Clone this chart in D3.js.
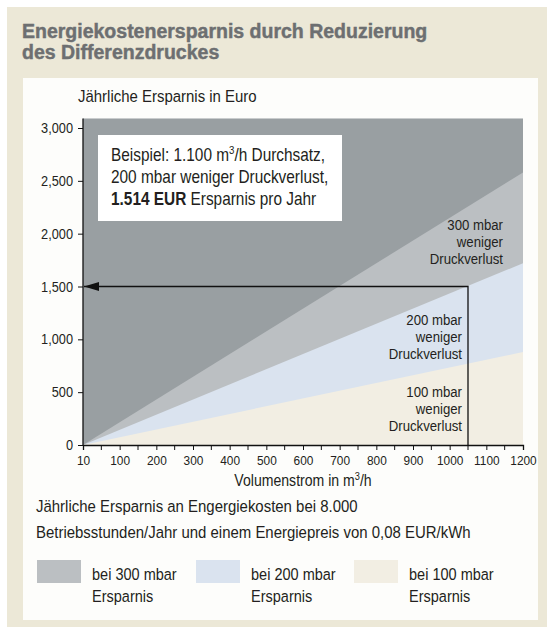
<!DOCTYPE html>
<html>
<head>
<meta charset="utf-8">
<script src="https://cdn.jsdelivr.net/npm/d3@7"></script>
<style>
  body { margin: 0; background: #ffffff; }
  svg text { font-family: "Liberation Sans", Arial, sans-serif; fill: #231f20; }
  .title { font-weight: bold; fill: #6d6f71 !important; stroke: #6d6f71; stroke-width: 0.45px; }
</style>
</head>
<body>
<svg id="chart"></svg>
<script>
// flow in m3/h and yearly savings in EUR
const flow = [0, 1200];
const save300 = [0, 2580];
const save200 = [0, 1720];
const save100 = [0, 880];
const fillTop = 3090;

const yTicks = [0, 500, 1000, 1500, 2000, 2500, 3000];
const yTickLabels = ["0", "500", "1,000", "1,500", "2,000", "2,500", "3,000"];
const xMinorTicks = [50, 150, 250, 350, 450, 550, 650, 750, 850, 950, 1050, 1150];
const xTicks = [0, 100, 200, 300, 400, 500, 600, 700, 800, 900, 1000, 1100, 1200];
const xTickLabels = ["10", "100", "200", "300", "400", "500", "600", "700", "800", "900", "1000", "1100", "1200"];

const exampleFlow = 1050, exampleSaving = 1500;

const legendLabels = ["bei 300 mbar", "bei 200 mbar", "bei 100 mbar"];
const colors = { bg: "#999fa2", s300: "#bbbfc2", s200: "#dae3ef", s100: "#f2eee3" };

const width = 547, height = 627;
const narrow = 0.88; // squeeze to mimic the condensed face
const svg = d3.select("#chart").attr("width", width).attr("height", height);

// condensed text helper
function ctext(x, y, size, anchor) {
  return svg.append("g").attr("transform", `translate(${x},${y}) scale(${narrow},1)`)
    .append("text").attr("text-anchor", anchor || "start").style("font-size", size + "px");
}

// frame
svg.append("rect").attr("x", 7).attr("y", 7).attr("width", 540).attr("height", 620).attr("fill", "#ece8d7");
svg.append("rect").attr("x", 23).attr("y", 78).attr("width", 515).attr("height", 542).attr("fill", "#fdfdfb");

svg.append("text").attr("class", "title").attr("x", 22).attr("y", 38).style("font-size", "19.5px")
  .text("Energiekostenersparnis durch Reduzierung");
svg.append("text").attr("class", "title").attr("x", 22).attr("y", 59).style("font-size", "19.5px")
  .text("des Differenzdruckes");

const x = d3.scaleLinear().domain([0, 1200]).range([83, 523]);
const y = d3.scaleLinear().domain([0, 3000]).range([445, 128]);

// areas
svg.append("rect")
  .attr("x", x(0)).attr("y", y(fillTop))
  .attr("width", x(1200) - x(0)).attr("height", y(0) - y(fillTop))
  .attr("fill", colors.bg);

const area = vals => d3.area()
  .x((d, i) => x(flow[i]))
  .y0(y(0))
  .y1((d, i) => y(vals[i]))(vals);

svg.append("path").attr("d", area(save300)).attr("fill", colors.s300);
svg.append("path").attr("d", area(save200)).attr("fill", colors.s200);
svg.append("path").attr("d", area(save100)).attr("fill", colors.s100);

// example box
svg.append("rect").attr("x", 98).attr("y", 135).attr("width", 244).attr("height", 86).attr("fill", "#ffffff");
const t1 = ctext(111, 161, 17.5);
t1.append("tspan").text("Beispiel: 1.100 m");
t1.append("tspan").attr("dy", -7).style("font-size", "11px").text("3");
t1.append("tspan").attr("dy", 7).text("/h Durchsatz,");
ctext(111, 183, 17.5).text("200 mbar weniger Druckverlust,");
const t3 = ctext(111, 205, 17.5);
t3.append("tspan").style("font-weight", "bold").text("1.514 EUR");
t3.append("tspan").text(" Ersparnis pro Jahr");

// series labels
const seriesLabels = [
  { x: 503, y: 230, lines: ["300 mbar", "weniger", "Druckverlust"] },
  { x: 462, y: 325, lines: ["200 mbar", "weniger", "Druckverlust"] },
  { x: 462, y: 397, lines: ["100 mbar", "weniger", "Druckverlust"] }
];
seriesLabels.forEach(l => {
  const t = ctext(l.x, l.y, 15, "end");
  l.lines.forEach((s, i) => t.append("tspan").attr("x", 0).attr("y", i * 17).text(s));
});

// example arrow
svg.append("defs").append("marker")
  .attr("id", "arrow").attr("viewBox", "0 0 15 9").attr("refX", 15).attr("refY", 4.5)
  .attr("markerWidth", 15).attr("markerHeight", 9).attr("markerUnits", "userSpaceOnUse")
  .attr("orient", "auto")
  .append("path").attr("d", "M0,0L15,4.5L0,9Z").attr("fill", "#111");

svg.append("path")
  .attr("d", `M${x(exampleFlow)},${y(0)}V${y(exampleSaving)}H${x(0) + 1}`)
  .attr("fill", "none").attr("stroke", "#111").attr("stroke-width", 1.3)
  .attr("marker-end", "url(#arrow)");

// axes
const yAxis = svg.append("g").attr("transform", `translate(${x(0)},0)`)
  .call(d3.axisLeft(y).tickValues(yTicks).tickFormat((d, i) => yTickLabels[i]).tickSize(5).tickPadding(5));
yAxis.select(".domain").attr("d", `M0,${y(0)}V${y(fillTop)}`);

const xAxis = svg.append("g").attr("transform", `translate(0,${y(0)})`)
  .call(d3.axisBottom(x).tickValues(xTicks).tickFormat((d, i) => xTickLabels[i]).tickSize(5).tickPadding(5));
xAxis.selectAll(".minor").data(xMinorTicks).enter().append("line")
  .attr("x1", d => x(d)).attr("x2", d => x(d)).attr("y1", 0).attr("y2", 5).attr("stroke", "#111");

[yAxis, xAxis].forEach(a => {
  a.selectAll(".domain").attr("stroke", "#111").attr("stroke-width", 1.3);
  a.selectAll(".tick line").attr("stroke", "#111");
  a.selectAll("text").style("font-family", null).attr("fill", "#231f20")
    .attr("transform", `scale(${narrow},1)`);
});
yAxis.selectAll("text").style("font-size", "14.5px").attr("x", -10 / narrow);
xAxis.selectAll("text").style("font-size", "13.5px");

// axis titles
ctext(78, 102, 17).text("Jährliche Ersparnis in Euro");
const xt = ctext(x(600), 486, 16, "middle");
xt.append("tspan").text("Volumenstrom in m");
xt.append("tspan").attr("dy", -6).style("font-size", "10.5px").text("3");
xt.append("tspan").attr("dy", 6).text("/h");

// note
ctext(36, 512, 17).text("Jährliche Ersparnis an Engergiekosten bei 8.000");
ctext(36, 538, 17).text("Betriebsstunden/Jahr und einem Energiepreis von 0,08 EUR/kWh");

// legend
const legendColors = [colors.s300, colors.s200, colors.s100];
const legendX = [37, 196, 354];
legendLabels.forEach((l, i) => {
  svg.append("rect").attr("x", legendX[i]).attr("y", 560).attr("width", 44).attr("height", 23).attr("fill", legendColors[i]);
  const t = ctext(legendX[i] + 55, 580, 16.5);
  t.append("tspan").attr("x", 0).attr("y", 0).text(l);
  t.append("tspan").attr("x", 0).attr("y", 22).text("Ersparnis");
});
</script>
</body>
</html>
